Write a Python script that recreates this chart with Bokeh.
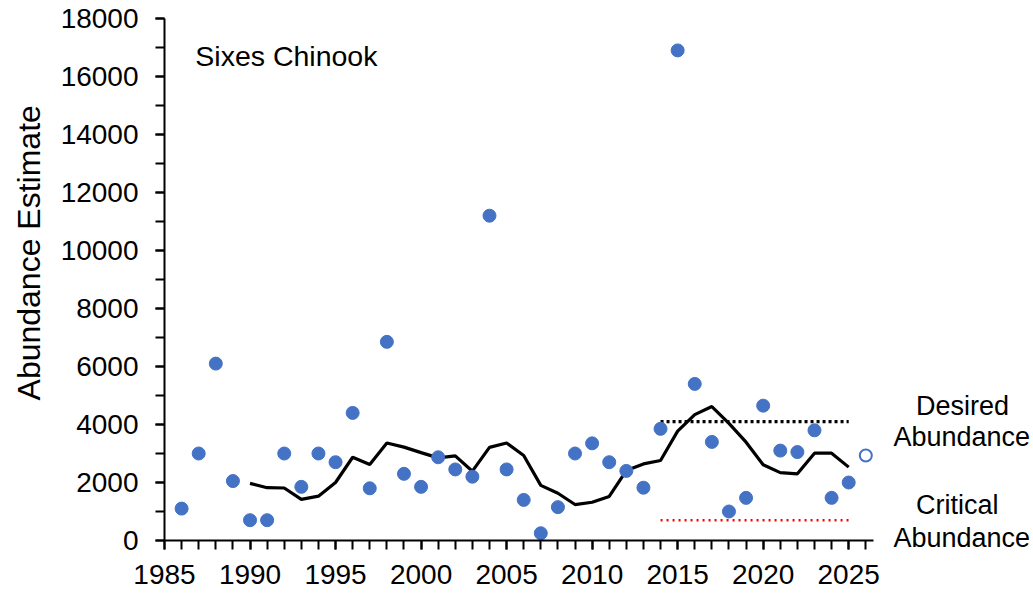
from bokeh.plotting import figure
from bokeh.models import Range1d, SingleIntervalTicker, FixedTicker, Label, LinearAxis
from bokeh.embed import file_html
from bokeh.resources import INLINE

# ---- data ----
years = list(range(1986, 2026))
abundance = [1100, 3000, 6100, 2050, 700, 700, 3000, 1850, 3000, 2700,
             4400, 1800, 6850, 2300, 1850, 2870, 2450, 2200, 11200, 2450,
             1400, 250, 1150, 3000, 3350, 2700, 2400, 1820, 3850, 16900,
             5400, 3400, 1000, 1470, 4650, 3100, 3050, 3800, 1470, 2000]
proj_year = [2026]
proj_value = [2930]
mean_years = list(range(1990, 2026))
mean_values = [1970, 1820, 1810, 1420, 1530, 2000, 2870, 2620, 3360, 3220,
               3030, 2850, 2920, 2390, 3210, 3360, 2930, 1900, 1630, 1240,
               1320, 1520, 2410, 2640, 2760, 3770, 4340, 4620, 4040, 3390,
               2610, 2340, 2300, 3010, 3010, 2530]
ref_years = [2014, 2025]
desired = [4100, 4100]
critical = [700, 700]
side_label_pos = [4655, 3560, 1207, 103]
side_label_text = ["Desired", "Abundance", "Critical", "Abundance"]

FONT = "Liberation Sans"
NB = "\u00a0"

p = figure(width=1033, height=597, output_backend="svg", toolbar_location=None,
           x_range=Range1d(1985, 2026.45), y_range=Range1d(0, 18000),
           min_border_left=164, min_border_top=18, min_border_right=158,
           min_border_bottom=57)
p.outline_line_color = None
p.xgrid.visible = False
p.ygrid.visible = False
p.background_fill_color = "white"
p.border_fill_color = "white"

for ax in (p.xaxis[0], p.yaxis[0]):
    ax.axis_line_color = "black"
    ax.axis_line_width = 2
    ax.major_tick_line_color = "black"
    ax.major_tick_line_width = 2
    ax.minor_tick_line_color = "black"
    ax.minor_tick_line_width = 2
    ax.major_tick_in = 0
    ax.major_tick_out = 9
    ax.minor_tick_in = 0
    ax.minor_tick_out = 9
    ax.major_label_text_font = FONT
    ax.major_label_text_font_size = "28px"
    ax.major_label_text_color = "black"

p.xaxis[0].ticker = SingleIntervalTicker(interval=5, num_minor_ticks=5)
p.yaxis[0].ticker = SingleIntervalTicker(interval=2000, num_minor_ticks=2)
p.xaxis[0].major_label_standoff = 15
p.yaxis[0].major_label_standoff = 17
p.yaxis[0].axis_label = NB * 6 + "Abundance Estimate"
p.yaxis[0].axis_label_text_font = FONT
p.yaxis[0].axis_label_text_font_size = "32px"
p.yaxis[0].axis_label_text_font_style = "normal"
p.yaxis[0].axis_label_text_color = "black"
p.yaxis[0].axis_label_standoff = 11

# right-side annotations as an invisible axis (left aligned, padded to centre)
pads = [3, 0, 3, 0]
side = LinearAxis(ticker=FixedTicker(ticks=side_label_pos),
                  major_label_overrides={v: NB * n + t for v, t, n in
                                         zip(side_label_pos, side_label_text, pads)})
side.axis_line_color = None
side.major_tick_line_color = None
side.minor_tick_line_color = None
side.major_tick_in = 0
side.major_tick_out = 0
side.major_label_text_font = FONT
side.major_label_text_font_size = "27px"
side.major_label_text_color = "black"
side.major_label_standoff = 20
p.add_layout(side, "right")

# reference lines
p.line(ref_years, desired, line_color="black", line_width=3.2, line_dash="3 3")
p.line(ref_years, critical, line_color="#FF0000", line_width=2.5, line_dash="2 4")

# running mean
p.line(mean_years, mean_values, line_color="black", line_width=3.2)

# abundance points
p.scatter(years, abundance, size=13, fill_color="#4472C4", line_color="#4472C4", line_width=1)
p.scatter(proj_year, proj_value, size=12, fill_color="white", line_color="#4472C4", line_width=2)

p.add_layout(Label(x=1986.8, y=16723, text="Sixes Chinook", text_font=FONT,
                   text_font_size="28.5px", text_color="black",
                   text_align="left", text_baseline="middle"))

open("out.html", "w").write(file_html(p, INLINE))
